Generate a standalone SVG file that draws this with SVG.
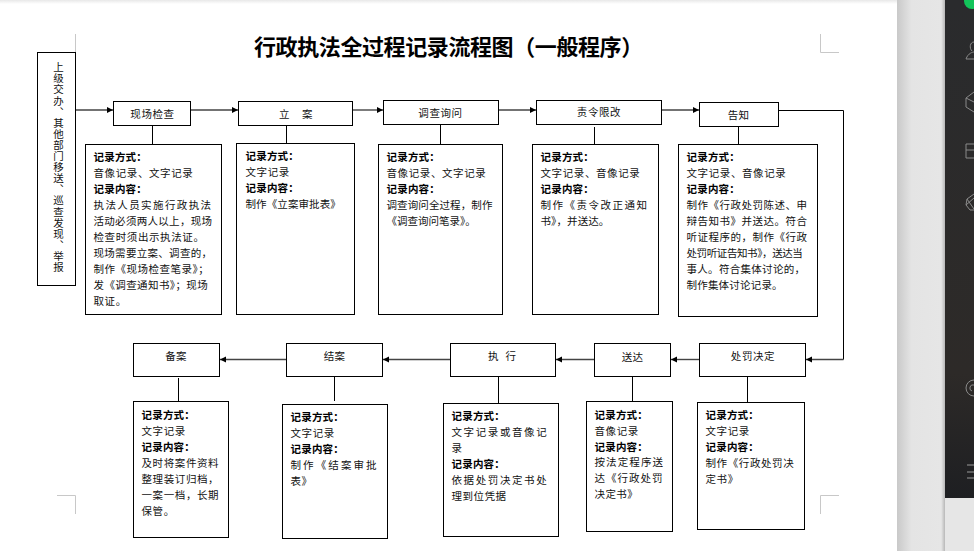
<svg xmlns="http://www.w3.org/2000/svg" width="974" height="551" viewBox="0 0 974 551">
<style>
text{font-family:"Noto Sans CJK SC","Noto Sans",sans-serif;font-size:10.5px;fill:#111}
.h{font-weight:700;fill:#000;letter-spacing:.2px}
.c{text-anchor:middle}
.title{font-size:22px;font-weight:700;fill:#000;letter-spacing:-.4px}
.box{fill:#fff;stroke:#000;stroke-width:1}
.stem{fill:none;stroke:#000;stroke-width:1}
.arrow{fill:none;stroke:#444;stroke-width:1.4;marker-end:url(#tip)}
.crop{fill:none;stroke:#c8c8c8;stroke-width:1}
.icon{fill:none;stroke:#8a8a8a;stroke-width:1}
</style>
<defs>
<marker id="tip" markerUnits="userSpaceOnUse" markerWidth="7" markerHeight="7" refX="6" refY="3.5" orient="auto"><path d="M0 .5L6 3.5L0 6.5Z" fill="#000"/></marker>
<linearGradient id="gut" x1="0" x2="1" y1="0" y2="0"><stop offset="0" stop-color="#c9c9c9"/><stop offset=".3" stop-color="#e4e4e4"/><stop offset=".92" stop-color="#e6e6e6"/><stop offset="1" stop-color="#b8b8b8"/></linearGradient>
<linearGradient id="panel" x1="0" x2="0" y1="0" y2="1"><stop offset="0" stop-color="#2a2b2d"/><stop offset=".75" stop-color="#2d2a28"/><stop offset="1" stop-color="#1e1f22"/></linearGradient>
<linearGradient id="topshade" x1="0" x2="0" y1="0" y2="1"><stop offset="0" stop-color="#e8e8e8"/><stop offset="1" stop-color="#fff"/></linearGradient>
</defs>

<rect width="974" height="551" fill="#fff"/>
<rect width="897" height="4" fill="url(#topshade)"/>
<rect x="897" width="77" height="551" fill="#e6e6e6"/>
<rect x="897" width="48" height="551" fill="url(#gut)"/>
<rect x="945" width="29" height="498" fill="url(#panel)"/>
<circle cx="972" cy="1" r="8" fill="#12c45a"/>
<path class="icon" d="M966 59C968 53 973 52 974 52M974 42C970 42 969 48 972 51M966 59H974"/>
<path class="icon" d="M974 92L966 98V107L974 112M966 98L974 102"/>
<path class="icon" d="M974 144H966V158H974M966 150H974"/>
<path class="icon" d="M974 194L967 199L966 205L970 210H974M967 199L974 209M966 205L974 198"/>
<circle class="icon" cx="974" cy="388" r="8"/>
<path class="icon" d="M974 385A3 3 0 0 0 972 391"/>
<path d="M967 465H974M967 472H974M967 478H974" fill="none" stroke="#9a9a9a" stroke-width="1.2"/>

<path class="crop" d="M57 52.500H75.500V34"/>
<path class="crop" d="M820.500 34V52.500H839"/>
<path class="crop" d="M57 495.500H75.500V514"/>
<path class="crop" d="M820.500 514V495.500H839"/>

<text class="title" x="254" y="55">行政执法全过程记录流程图（一般程序）</text>

<g id="connectors">
<path class="arrow" d="M76 110H113"/>
<path class="arrow" d="M191 110H238"/>
<path class="arrow" d="M353 110H383"/>
<path class="arrow" d="M499 110H536"/>
<path class="arrow" d="M662 110H699"/>
<path class="stem" d="M776 110.500H843.500V359.500"/>
<path class="arrow" d="M843.500 359.500H806"/>
<path class="arrow" d="M699 359.500H671"/>
<path class="arrow" d="M594 359.500H556"/>
<path class="arrow" d="M450 359.500H383"/>
<path class="arrow" d="M286 359.500H220"/>
<path class="stem" d="M152.500 126V144M286.500 126V143M440.500 125V144M594.500 127V144M738.500 127V144M178.500 378V402M334.500 377V401M498.500 377V403M632.500 377V401M747.500 377V402"/>
</g>

<g id="source">
<rect class="box" x="37.500" y="52.500" width="38" height="233"/>
<text x="58.500" y="62" writing-mode="vertical-rl" letter-spacing=".6">上级交办、其他部门移送、巡查发现、举报</text>
</g>

<g id="step-inspect">
<rect class="box" x="113.500" y="101.500" width="77" height="24"/>
<text class="c" x="152.500" y="118" letter-spacing=".6">现场检查</text>
<rect class="box" x="85.500" y="144.500" width="136" height="170"/>
<text class="h" x="93.500" y="161">记录方式：</text>
<text x="93.500" y="177" letter-spacing=".6">音像记录、文字记录</text>
<text class="h" x="93.500" y="193">记录内容：</text>
<text x="93.500" y="209" letter-spacing="1.4">执法人员实施行政执法</text>
<text x="93.500" y="225" letter-spacing=".3">活动必须两人以上，现场</text>
<text x="93.500" y="241" letter-spacing=".6">检查时须出示执法证。</text>
<text x="93.500" y="257" letter-spacing=".3">现场需要立案、调查的，</text>
<text x="93.500" y="273" letter-spacing=".5">制作《现场检查笔录》；</text>
<text x="93.500" y="289" letter-spacing=".4">发《调查通知书》；现场</text>
<text x="93.500" y="305" letter-spacing=".6">取证。</text>
</g>

<g id="step-register">
<rect class="box" x="238.500" y="101.500" width="114" height="24"/>
<text x="279" y="118">立</text><text x="302" y="118">案</text>
<rect class="box" x="236.500" y="143.500" width="118" height="171"/>
<text class="h" x="245.500" y="160">记录方式：</text>
<text x="245.500" y="176" letter-spacing=".6">文字记录</text>
<text class="h" x="245.500" y="192">记录内容：</text>
<text x="245.500" y="208" letter-spacing=".1">制作《立案审批表》</text>
</g>

<g id="step-inquiry">
<rect class="box" x="383.500" y="100.500" width="115" height="24"/>
<text class="c" x="440.500" y="117" letter-spacing=".6">调查询问</text>
<rect class="box" x="378.500" y="144.500" width="124" height="170"/>
<text class="h" x="386.500" y="161">记录方式：</text>
<text x="386.500" y="177" letter-spacing=".6">音像记录、文字记录</text>
<text class="h" x="386.500" y="193">记录内容：</text>
<text x="386.500" y="209" letter-spacing=".1">调查询问全过程，制作</text>
<text x="386.500" y="225">《调查询问笔录》。</text>
</g>

<g id="step-order">
<rect class="box" x="536.500" y="100.500" width="125" height="24"/>
<text class="c" x="599" y="116" letter-spacing=".6">责令限改</text>
<rect class="box" x="532.500" y="144.500" width="126" height="170"/>
<text class="h" x="540.500" y="161">记录方式：</text>
<text x="540.500" y="177" letter-spacing=".6">文字记录、音像记录</text>
<text class="h" x="540.500" y="193">记录内容：</text>
<text x="540.500" y="209" letter-spacing="1.5">制作《责令改正通知</text>
<text x="540.500" y="225" letter-spacing=".1">书》，并送达。</text>
</g>

<g id="step-notice">
<rect class="box" x="699.500" y="102.500" width="79" height="24"/>
<text class="c" x="738.500" y="119" letter-spacing=".3">告知</text>
<rect class="box" x="678.500" y="144.500" width="139" height="172"/>
<text class="h" x="686.500" y="161">记录方式：</text>
<text x="686.500" y="177" letter-spacing=".6">文字记录、音像记录</text>
<text class="h" x="686.500" y="193">记录内容：</text>
<text x="686.500" y="209" letter-spacing=".5">制作《行政处罚陈述、申</text>
<text x="686.500" y="225" letter-spacing=".5">辩告知书》并送达。符合</text>
<text x="686.500" y="241" letter-spacing=".5">听证程序的，制作《行政</text>
<text x="686.500" y="257" letter-spacing="-.4">处罚听证告知书》，送达当</text>
<text x="686.500" y="273" letter-spacing=".3">事人。符合集体讨论的，</text>
<text x="686.500" y="289" letter-spacing=".2">制作集体讨论记录。</text>
</g>

<g id="step-decision">
<rect class="box" x="699.500" y="343.500" width="106" height="33"/>
<text class="c" x="753" y="360" letter-spacing=".6">处罚决定</text>
<rect class="box" x="697.500" y="402.500" width="107" height="127"/>
<text class="h" x="705.500" y="419">记录方式：</text>
<text x="705.500" y="435" letter-spacing=".6">文字记录</text>
<text class="h" x="705.500" y="451">记录内容：</text>
<text x="705.500" y="467" letter-spacing=".6">制作《行政处罚决</text>
<text x="705.500" y="483" letter-spacing=".6">定书》</text>
</g>

<g id="step-deliver">
<rect class="box" x="594.500" y="343.500" width="76" height="33"/>
<text class="c" x="632.500" y="360.500" letter-spacing=".3">送达</text>
<rect class="box" x="586.500" y="401.500" width="86" height="130"/>
<text class="h" x="594.500" y="419">记录方式：</text>
<text x="594.500" y="435" letter-spacing=".6">音像记录</text>
<text class="h" x="594.500" y="451">记录内容：</text>
<text x="594.500" y="466" letter-spacing="1.1">按法定程序送</text>
<text x="594.500" y="482" letter-spacing="1">达《行政处罚</text>
<text x="594.500" y="498" letter-spacing=".4">决定书》</text>
</g>

<g id="step-execute">
<rect class="box" x="450.500" y="343.500" width="105" height="33"/>
<text x="488" y="360">执</text><text x="505.500" y="360">行</text>
<rect class="box" x="443.500" y="403.500" width="115" height="133"/>
<text class="h" x="451.500" y="420">记录方式：</text>
<text x="451.500" y="436" letter-spacing="1.6">文字记录或音像记</text>
<text x="451.500" y="452">录</text>
<text class="h" x="451.500" y="468">记录内容：</text>
<text x="451.500" y="484" letter-spacing="1.6">依据处罚决定书处</text>
<text x="451.500" y="500" letter-spacing=".5">理到位凭据</text>
</g>

<g id="step-close">
<rect class="box" x="286.500" y="343.500" width="96" height="33"/>
<text class="c" x="334.500" y="360" letter-spacing=".3">结案</text>
<rect class="box" x="282.500" y="404.500" width="105" height="134"/>
<text class="h" x="290.500" y="421">记录方式：</text>
<text x="290.500" y="437" letter-spacing=".6">文字记录</text>
<text class="h" x="290.500" y="453">记录内容：</text>
<text x="290.500" y="469" letter-spacing="2.1">制作《结案审批</text>
<text x="290.500" y="485" letter-spacing=".6">表》</text>
</g>

<g id="step-archive">
<rect class="box" x="133.500" y="343.500" width="86" height="33"/>
<text class="c" x="176" y="360" letter-spacing=".3">备案</text>
<rect class="box" x="133.500" y="401.500" width="95" height="136"/>
<text class="h" x="141.500" y="419">记录方式：</text>
<text x="141.500" y="435" letter-spacing=".6">文字记录</text>
<text class="h" x="141.500" y="451">记录内容：</text>
<text x="141.500" y="467" letter-spacing=".6">及时将案件资料</text>
<text x="141.500" y="483" letter-spacing=".6">整理装订归档，</text>
<text x="141.500" y="499" letter-spacing=".6">一案一档，长期</text>
<text x="141.500" y="515" letter-spacing=".6">保管。</text>
</g>
</svg>
